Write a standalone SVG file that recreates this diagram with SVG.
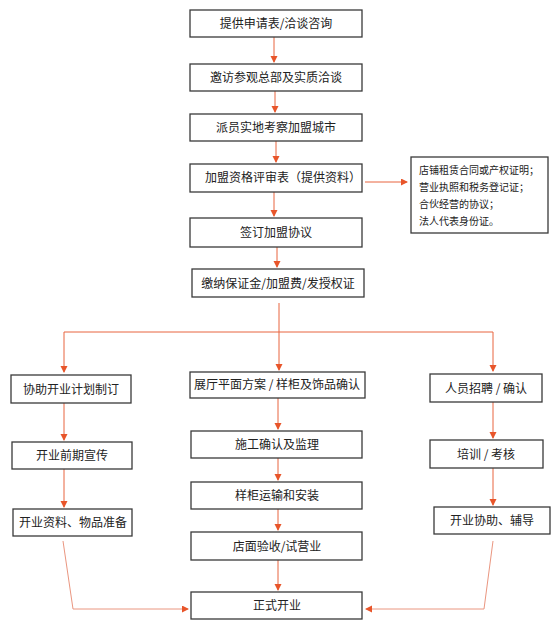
<svg xmlns="http://www.w3.org/2000/svg" width="557" height="640" viewBox="0 0 557 640">
<style>
  .box{fill:#fff;stroke:#3a3a3a;stroke-width:1.3}
  .t{font-family:"Noto Sans CJK SC","Liberation Sans",sans-serif;font-size:12px;fill:#222;text-anchor:middle}
  .s{font-family:"Noto Sans CJK SC","Liberation Sans",sans-serif;font-size:10px;fill:#222}
  .c{fill:none;stroke:#E8653E;stroke-width:1;marker-end:url(#ah)}
  .cl{fill:none;stroke:#EA9680;stroke-width:1;marker-end:url(#ah)}
</style>
<defs>
  <marker id="ah" markerWidth="8" markerHeight="8" refX="6" refY="3.5" orient="auto" markerUnits="userSpaceOnUse">
    <path d="M0,0 L7,3.5 L0,7 Z" fill="#E8552A"/>
  </marker>
</defs>
<rect width="557" height="640" fill="#fff"/>
<g id="connectors">
  <path class="c" d="M274,37 V62"/>
  <path class="c" d="M275,91 V112"/>
  <path class="c" d="M276,141 V162"/>
  <path class="c" d="M365,182 H407"/>
  <path class="c" d="M274,192 V216"/>
  <path class="c" d="M277,247 V267"/>
  <path class="c" d="M279,303 V370"/>
  <path fill="none" stroke="#E8653E" d="M64,332 H493"/>
  <path class="c" d="M64,332 V372"/>
  <path class="c" d="M493,332 V371"/>
  <path class="c" d="M64,403 V440"/>
  <path class="c" d="M64,469 V507"/>
  <path class="c" d="M278,398 V429"/>
  <path class="c" d="M278,458 V480"/>
  <path class="c" d="M278,509 V530"/>
  <path class="c" d="M278,560 V590"/>
  <path class="c" d="M493,402 V438"/>
  <path class="c" d="M493,468 V505"/>
  <path class="cl" d="M63,541 L73,609 H188"/>
  <path class="cl" d="M493,541 L484,609 H366"/>
</g>
<g id="n1"><rect class="box" x="190" y="10" width="172" height="27"/><text class="t" x="276" y="28">提供申请表/洽谈咨询</text></g>
<g id="n2"><rect class="box" x="190" y="64" width="172" height="27"/><text class="t" x="276" y="82">邀访参观总部及实质洽谈</text></g>
<g id="n3"><rect class="box" x="190" y="114" width="172" height="27"/><text class="t" x="276" y="132">派员实地考察加盟城市</text></g>
<g id="n4"><rect class="box" x="190" y="164" width="172" height="28"/><text class="t" x="283" y="182">加盟资格评审表（提供资料）</text></g>
<g id="side"><rect class="box" x="411" y="157" width="137" height="76"/>
  <text class="s" x="419" y="174">店铺租赁合同或产权证明；</text>
  <text class="s" x="419" y="191">营业执照和税务登记证；</text>
  <text class="s" x="419" y="208">合伙经营的协议；</text>
  <text class="s" x="419" y="225">法人代表身份证。</text>
</g>
<g id="n5"><rect class="box" x="190" y="218" width="172" height="29"/><text class="t" x="276" y="237">签订加盟协议</text></g>
<g id="n6"><rect class="box" x="192" y="269" width="172" height="28"/><text class="t" x="278" y="288">缴纳保证金/加盟费/发授权证</text></g>
<g id="l1"><rect class="box" x="11" y="375" width="120" height="28"/><text class="t" x="71" y="394">协助开业计划制订</text></g>
<g id="l2"><rect class="box" x="12" y="442" width="120" height="27"/><text class="t" x="72" y="460">开业前期宣传</text></g>
<g id="l3"><rect class="box" x="13" y="509" width="119" height="27"/><text class="t" x="73" y="527">开业资料、物品准备</text></g>
<g id="m1"><rect class="box" x="190" y="372" width="175" height="26"/><text class="t" x="277" y="389">展厅平面方案 / 样柜及饰品确认</text></g>
<g id="m2"><rect class="box" x="191" y="431" width="171" height="27"/><text class="t" x="277" y="449">施工确认及监理</text></g>
<g id="m3"><rect class="box" x="191" y="482" width="171" height="27"/><text class="t" x="277" y="500">样柜运输和安装</text></g>
<g id="m4"><rect class="box" x="191" y="532" width="171" height="28"/><text class="t" x="277" y="551">店面验收/试营业</text></g>
<g id="m5"><rect class="box" x="191" y="592" width="171" height="27"/><text class="t" x="277" y="610">正式开业</text></g>
<g id="r1"><rect class="box" x="430" y="374" width="112" height="28"/><text class="t" x="486" y="393">人员招聘 / 确认</text></g>
<g id="r2"><rect class="box" x="430" y="440" width="113" height="28"/><text class="t" x="486" y="459">培训 / 考核</text></g>
<g id="r3"><rect class="box" x="434" y="507" width="116" height="27"/><text class="t" x="492" y="525">开业协助、辅导</text></g>
</svg>
